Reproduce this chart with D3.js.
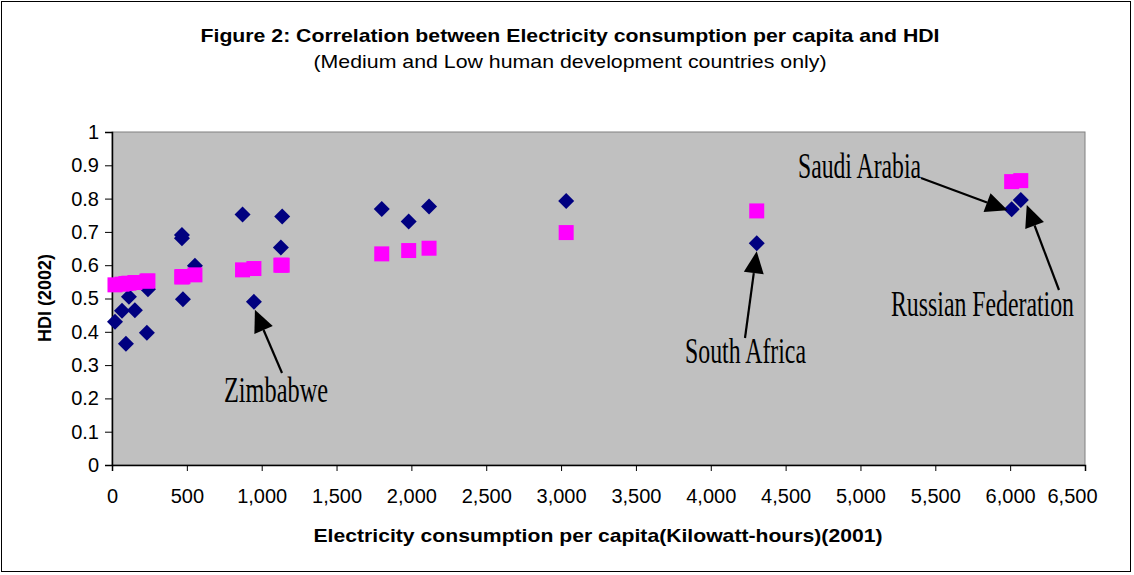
<!DOCTYPE html>
<html><head><meta charset="utf-8">
<script src="https://cdn.jsdelivr.net/npm/d3@7"></script>
<style>body{margin:0;background:#fff}</style>
</head><body><svg id="c" width="1134" height="575"></svg>
<script>
// Data
const electricity = [20, 67, 93, 113, 153, 233, 240, 467, 467, 474, 554, 872, 948, 1128, 1137, 1802, 1982, 2118, 3034, 4307, 6010, 6071];
const hdi         = [0.43, 0.463, 0.364, 0.505, 0.465, 0.397, 0.528, 0.691, 0.681, 0.498, 0.598, 0.752, 0.49, 0.653, 0.746, 0.769, 0.731, 0.776, 0.793, 0.666, 0.768, 0.796];
const fitted      = [0.541, 0.543, 0.545, 0.546, 0.548, 0.552, 0.553, 0.565, 0.565, 0.566, 0.571, 0.586, 0.59, 0.6, 0.6, 0.634, 0.644, 0.651, 0.698, 0.763, 0.851, 0.854];
const xTickValues = [0, 500, 1000, 1500, 2000, 2500, 3000, 3500, 4000, 4500, 5000, 5500, 6000, 6500];
const yTickValues = [0, 0.1, 0.2, 0.3, 0.4, 0.5, 0.6, 0.7, 0.8, 0.9, 1];
const yTickLabels = ["0", "0.1", "0.2", "0.3", "0.4", "0.5", "0.6", "0.7", "0.8", "0.9", "1"];
const annotationLabels = ["Zimbabwe", "South Africa", "Saudi Arabia", "Russian Federation"];
const annotationIndex  = [12, 19, 20, 21];

const titleText = "Figure 2: Correlation between Electricity consumption per capita and HDI";
const subtitleText = "(Medium and Low human development countries only)";
const xTitle = "Electricity consumption per capita(Kilowatt-hours)(2001)";
const yTitle = "HDI (2002)";

// Layout
const plot = {left: 112, right: 1085, top: 132, bottom: 465};
const annLayout = [
  {tx: 224, ty: 402, tw: 104, tail: [282, 373], tipOff: [1, 8]},
  {tx: 685, ty: 363, tw: 121, tail: [745, 338], tipOff: [0, 8]},
  {tx: 798, ty: 178, tw: 123, tail: [921, 178], tipOff: [-4, 1]},
  {tx: 891, ty: 316, tw: 183, tail: [1059, 290], tipOff: [6, 5]}
];

const svg = d3.select("#c");
const sans = "'Liberation Sans', Arial, sans-serif";
const serif = "'Liberation Serif', 'Times New Roman', serif";

svg.append("rect").attr("width", 1134).attr("height", 575).attr("fill", "#fff");
svg.append("rect").attr("x", 1.5).attr("y", 1.5).attr("width", 1129).attr("height", 570)
  .attr("fill", "none").attr("stroke", "#000").attr("stroke-width", 1);

const x = d3.scaleLinear().domain([0, 6500]).range([plot.left, plot.right]);
const y = d3.scaleLinear().domain([0, 1]).range([plot.bottom, plot.top]);

// plot area
svg.append("rect").attr("x", plot.left).attr("y", plot.top)
  .attr("width", plot.right - plot.left).attr("height", plot.bottom - plot.top)
  .attr("fill", "#C0C0C0").attr("stroke", "#808080").attr("stroke-width", 1);

// axes
const xAxis = d3.axisBottom(x).tickValues(xTickValues).tickSize(6).tickPadding(18)
  .tickFormat(d3.format(","));
const gx = svg.append("g").attr("transform", `translate(0,${plot.bottom})`).call(xAxis);
gx.select(".domain").attr("stroke", "#000").attr("stroke-width", 1.5);
gx.selectAll(".tick line").attr("stroke", "#000");
gx.selectAll("text").attr("font-family", sans).attr("font-size", 20).attr("fill", "#000");
// last label is pulled inward, as in the reference
gx.selectAll(".tick text").filter(d => d === xTickValues[xTickValues.length - 1]).attr("dx", -13);

const yAxis = d3.axisLeft(y).tickValues(yTickValues).tickSize(7).tickPadding(6)
  .tickFormat((d, i) => yTickLabels[i]);
const gy = svg.append("g").attr("transform", `translate(${plot.left},0)`).call(yAxis);
gy.select(".domain").attr("stroke", "#000").attr("stroke-width", 1.5);
gy.selectAll(".tick line").attr("stroke", "#000");
gy.selectAll("text").attr("font-family", sans).attr("font-size", 20).attr("fill", "#000");

// diamonds (HDI)
const pts = electricity.map((e, i) => ({e, h: hdi[i], f: fitted[i]}));
svg.append("g").selectAll("path").data(pts).join("path")
  .attr("transform", d => `translate(${x(d.e)},${y(d.h)})`)
  .attr("d", "M0,-8L8,0L0,8L-8,0Z")
  .attr("fill", "#000080");

// squares (fitted)
const s = 15;
svg.append("g").selectAll("rect").data(pts).join("rect")
  .attr("x", d => x(d.e) - s / 2).attr("y", d => y(d.f) - s / 2)
  .attr("width", s).attr("height", s)
  .attr("fill", "#FF00FF");

// annotations
annotationLabels.forEach((lab, k) => {
  const L = annLayout[k];
  const i = annotationIndex[k];
  const tip = [x(electricity[i]) + L.tipOff[0], y(hdi[i]) + L.tipOff[1]];
  const dx = tip[0] - L.tail[0], dy = tip[1] - L.tail[1];
  const len = Math.hypot(dx, dy);
  const ux = dx / len, uy = dy / len;
  const hl = 22, hw = 10;
  const base = [tip[0] - ux * hl, tip[1] - uy * hl];
  svg.append("line").attr("x1", L.tail[0]).attr("y1", L.tail[1])
    .attr("x2", base[0]).attr("y2", base[1]).attr("stroke", "#000").attr("stroke-width", 2.2);
  svg.append("polygon").attr("points", [
    tip, [base[0] - uy * hw, base[1] + ux * hw], [base[0] + uy * hw, base[1] - ux * hw]
  ].map(p => p.join(",")).join(" ")).attr("fill", "#000");
  svg.append("text").attr("x", L.tx).attr("y", L.ty)
    .attr("font-family", serif).attr("font-size", 36)
    .attr("textLength", L.tw).attr("lengthAdjust", "spacingAndGlyphs")
    .attr("fill", "#000").text(lab);
});

// titles
svg.append("text").attr("x", 570).attr("y", 42).attr("text-anchor", "middle")
  .attr("font-family", sans).attr("font-weight", "bold").attr("font-size", 19)
  .attr("textLength", 739).attr("lengthAdjust", "spacingAndGlyphs").text(titleText);
svg.append("text").attr("x", 570).attr("y", 68).attr("text-anchor", "middle")
  .attr("font-family", sans).attr("font-size", 19)
  .attr("textLength", 513).attr("lengthAdjust", "spacingAndGlyphs").text(subtitleText);
svg.append("text").attr("x", 598).attr("y", 542).attr("text-anchor", "middle")
  .attr("font-family", sans).attr("font-weight", "bold").attr("font-size", 19)
  .attr("textLength", 569).attr("lengthAdjust", "spacingAndGlyphs").text(xTitle);
svg.append("text").attr("transform", "translate(51,298) rotate(-90)").attr("text-anchor", "middle")
  .attr("font-family", sans).attr("font-weight", "bold").attr("font-size", 19)
  .attr("textLength", 88).attr("lengthAdjust", "spacingAndGlyphs").text(yTitle);
</script></body></html>
